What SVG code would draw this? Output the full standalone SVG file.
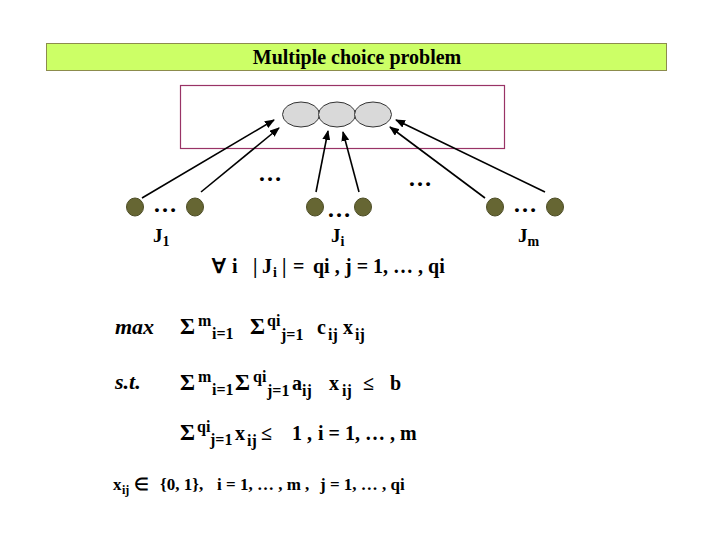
<svg xmlns="http://www.w3.org/2000/svg" width="720" height="540" viewBox="0 0 720 540">
<style>
.t{font-family:"Liberation Serif","Times New Roman",serif;font-weight:bold;fill:#000}
.f{font-size:20px}
.g{font-size:23px}
.s{font-size:16px}
.it{font-style:italic;font-size:22px}
.el{font-size:24px}
.ln{stroke:#000;stroke-width:1.6;fill:none}
.dot{fill:#666633;stroke:#4d4d26;stroke-width:1}
.ell{fill:#d9d9d9;stroke:#333;stroke-width:1}
</style>
<defs>
<marker id="ah" markerWidth="10" markerHeight="8" refX="9" refY="4" orient="auto" markerUnits="userSpaceOnUse">
<path d="M0,0 L10,4 L0,8 Z" fill="#000"/>
</marker>
</defs>
<rect width="720" height="540" fill="#fff"/>
<g id="title">
<rect x="46.5" y="43.5" width="620" height="27" fill="#ccff66" stroke="#8c8c4d" stroke-width="1"/>
<text class="t" x="357" y="64" font-size="20" text-anchor="middle">Multiple choice problem</text>
</g>
<g id="container">
<rect x="180.5" y="85.5" width="324" height="63" fill="none" stroke="#993366" stroke-width="1.2"/>
</g>
<g id="items">
<ellipse class="ell" cx="301" cy="114.5" rx="18.5" ry="12.5"/>
<ellipse class="ell" cx="337" cy="114.5" rx="18.5" ry="12.5"/>
<ellipse class="ell" cx="373" cy="114.5" rx="18.5" ry="12.5"/>
</g>
<g id="connectors">
<line class="ln" x1="142" y1="198" x2="274" y2="120" marker-end="url(#ah)"/>
<line class="ln" x1="201" y1="192" x2="279" y2="128" marker-end="url(#ah)"/>
<line class="ln" x1="316" y1="192" x2="328" y2="131" marker-end="url(#ah)"/>
<line class="ln" x1="359" y1="192" x2="343" y2="132" marker-end="url(#ah)"/>
<line class="ln" x1="485" y1="198" x2="390" y2="127" marker-end="url(#ah)"/>
<line class="ln" x1="545" y1="192" x2="396" y2="120" marker-end="url(#ah)"/>
</g>
<g id="J1">
<ellipse class="dot" cx="135" cy="207" rx="8.5" ry="9"/>
<ellipse class="dot" cx="195" cy="207" rx="8.5" ry="9"/>
<text class="t el" x="165" y="212" text-anchor="middle">…</text>
<text class="t" x="153" y="242" font-size="19">J<tspan font-size="14" dy="4">1</tspan></text>
</g>
<g id="Ji">
<ellipse class="dot" cx="315" cy="207" rx="8.5" ry="9"/>
<ellipse class="dot" cx="363" cy="207" rx="8.5" ry="9"/>
<text class="t el" x="339" y="217" text-anchor="middle">…</text>
<text class="t" x="331" y="242" font-size="19">J<tspan font-size="14" dy="4">i</tspan></text>
</g>
<g id="Jm">
<ellipse class="dot" cx="495" cy="207" rx="8.5" ry="9"/>
<ellipse class="dot" cx="555" cy="207" rx="8.5" ry="9"/>
<text class="t el" x="525" y="212" text-anchor="middle">…</text>
<text class="t" x="518" y="242" font-size="19">J<tspan font-size="14" dy="4">m</tspan></text>
</g>
<g id="gaps">
<text class="t el" x="270" y="181" text-anchor="middle">…</text>
<text class="t el" x="420" y="186" text-anchor="middle">…</text>
</g>
<g id="formulas">
<text class="t f" y="273"><tspan x="212">∀</tspan><tspan x="232">i</tspan><tspan x="253">|</tspan><tspan x="262">J</tspan><tspan font-size="14" x="273" y="277">i</tspan><tspan x="282" y="273">|</tspan><tspan x="293">=</tspan><tspan x="313">qi ,</tspan><tspan x="345">j = 1, … , qi</tspan></text>
<text class="t it" x="115" y="334">max</text>
<text class="t f" y="334"><tspan class="g" x="180">Σ</tspan><tspan class="s" x="198" y="326">m</tspan><tspan class="s" x="212" y="339">i=1</tspan><tspan class="g" x="250" y="334">Σ</tspan><tspan class="s" x="267" y="326">qi</tspan><tspan class="s" x="281" y="340">j=1</tspan><tspan x="317" y="334">c</tspan><tspan class="s" x="328" y="340">ij</tspan><tspan x="343" y="334">x</tspan><tspan class="s" x="355" y="340">ij</tspan></text>
<text class="t it" x="115" y="389">s.t.</text>
<text class="t f" y="390"><tspan class="g" x="180">Σ</tspan><tspan class="s" x="198" y="382">m</tspan><tspan class="s" x="212" y="395">i=1</tspan><tspan class="g" x="235" y="390">Σ</tspan><tspan class="s" x="253" y="382">qi</tspan><tspan class="s" x="267" y="396">j=1</tspan><tspan x="292" y="390">a</tspan><tspan class="s" x="302" y="396">ij</tspan><tspan x="329" y="390">x</tspan><tspan class="s" x="342" y="396">ij</tspan><tspan x="363" y="390">≤</tspan><tspan x="390">b</tspan></text>
<text class="t f" y="440"><tspan class="g" x="180">Σ</tspan><tspan class="s" x="197" y="432">qi</tspan><tspan class="s" x="210" y="445">j=1</tspan><tspan x="235" y="440">x</tspan><tspan class="s" x="247" y="446">ij</tspan><tspan x="261" y="440">≤</tspan><tspan x="292">1 ,</tspan><tspan x="318">i = 1, … , m</tspan></text>
<text class="t" y="490" font-size="17"><tspan x="113">x</tspan><tspan font-size="12" x="122" y="494">ij</tspan><tspan x="134" y="490">∈</tspan><tspan x="160">{0, 1},</tspan><tspan x="217">i = 1, … , m ,</tspan><tspan x="320">j = 1, … , qi</tspan></text>
</g>
</svg>
